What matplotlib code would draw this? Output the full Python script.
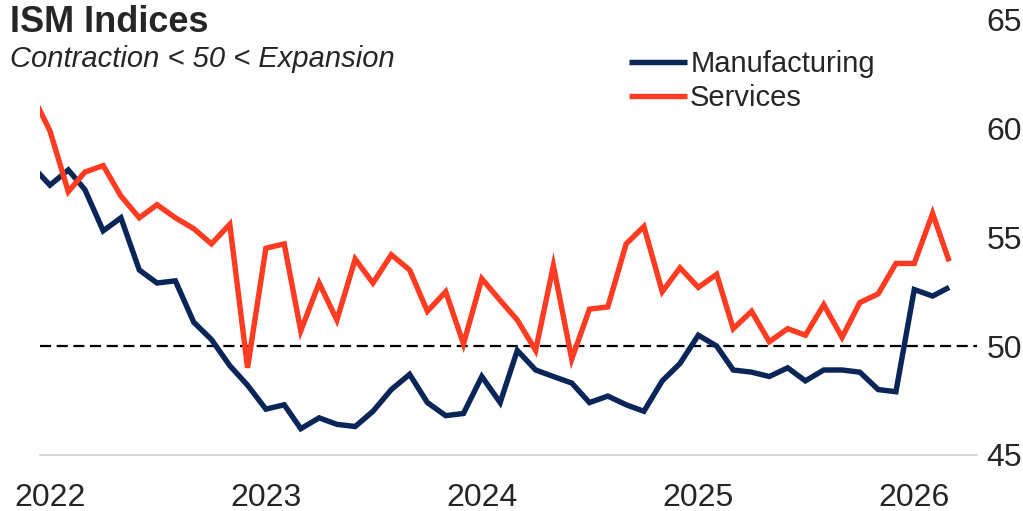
import numpy as np
import pandas as pd
import matplotlib
matplotlib.use("Agg")
import matplotlib.pyplot as plt

plt.rcParams['font.family'] = ['Liberation Sans', 'DejaVu Sans']

# --- DATA ---
months = pd.date_range("2021-12-01", "2026-03-01", freq="MS")

manufacturing = [
    58.3,
    57.4, 58.1, 57.2, 55.3, 55.9, 53.5, 52.9, 53.0, 51.1, 50.3, 49.1, 48.2,
    47.1, 47.3, 46.2, 46.7, 46.4, 46.3, 47.0, 48.0, 48.7, 47.4, 46.8, 46.9,
    48.6, 47.4, 49.8, 48.9, 48.6, 48.3, 47.4, 47.7, 47.3, 47.0, 48.4, 49.2,
    50.5, 50.0, 48.9, 48.8, 48.6, 49.0, 48.4, 48.9, 48.9, 48.8, 48.0, 47.9,
    52.6, 52.3, 52.7,
]

services = [
    61.6,
    59.9, 57.1, 58.0, 58.3, 56.9, 55.9, 56.5, 55.9, 55.4, 54.7, 55.6, 49.0,
    54.5, 54.7, 50.7, 52.9, 51.2, 54.0, 52.9, 54.2, 53.5, 51.6, 52.5, 50.1,
    53.1, 52.1, 51.2, 49.8, 53.7, 49.4, 51.7, 51.8, 54.7, 55.5, 52.5, 53.6,
    52.7, 53.3, 50.8, 51.6, 50.2, 50.8, 50.5, 51.9, 50.4, 52.0, 52.4, 53.8,
    53.8, 56.1, 53.9,
]

year_ticks = ["2022", "2023", "2024", "2025", "2026"]
y_ticks = [45, 50, 55, 60, 65]

navy = "#0a2658"
red = "#ff3b22"
text_col = "#262626"

# --- PLOT ---
fig = plt.figure(figsize=(10.23, 5.11), dpi=100)
ax = fig.add_axes([0.039, 0.11, 0.916, 0.851])

ax.plot(months, manufacturing, color=navy, lw=3.9, label="Manufacturing",
        solid_joinstyle="miter", solid_capstyle="butt")
ax.plot(months, services, color=red, lw=3.9, label="Services",
        solid_joinstyle="miter", solid_capstyle="butt")
ax.axhline(50, color="black", lw=1.6, ls=(0, (5, 2.5)), zorder=1)

ax.set_ylim(45, 65)
ax.set_xlim(pd.Timestamp("2021-12-15"), pd.Timestamp("2026-04-17"))

ax.set_xticks([pd.Timestamp(y + "-01-01") for y in year_ticks])
ax.set_xticklabels(year_ticks)
ax.set_yticks(y_ticks)
ax.yaxis.tick_right()
ax.tick_params(axis="both", length=0, labelsize=23, colors=text_col)
ax.tick_params(axis="x", pad=20)
ax.tick_params(axis="y", pad=7)

for s in ["top", "left", "right"]:
    ax.spines[s].set_visible(False)
ax.spines["bottom"].set_color("#d0d0d0")
ax.spines["bottom"].set_linewidth(1.2)

leg = ax.legend(loc="upper left", bbox_to_anchor=(0.613, 0.965), frameon=False,
                fontsize=21, handlelength=2.0, handletextpad=0.1,
                labelspacing=0.22, borderpad=0)
for t in leg.get_texts():
    t.set_color(text_col)

fig.text(0.01, 0.99, "ISM Indices", fontsize=26, fontweight="bold",
         color=text_col, va="top")
fig.text(0.01, 0.868, "Contraction < 50 < Expansion", fontsize=21,
         style="italic", color=text_col, va="baseline")

fig.savefig("out.png", dpi=100)
